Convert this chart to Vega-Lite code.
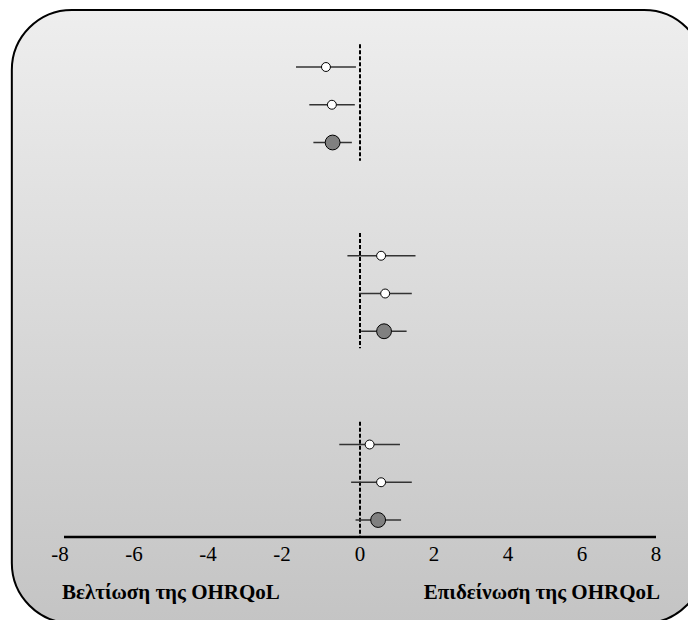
{
  "$schema": "https://vega.github.io/schema/vega-lite/v6.json",
  "width": 592,
  "height": 527,
  "autosize": {"type": "none"},
  "padding": {"left": 64, "top": 10, "right": 32, "bottom": 83},
  "background": "white",
  "config": {"view": {"stroke": null}},
  "data": {
    "values": [
      {"kind": "box", "x0": -9.41, "x1": 9.3, "y0": -1.51, "y1": 14.73},
      {"kind": "ref", "group": 1, "x0": 0, "y0": -0.6, "y1": 2.48},
      {"kind": "ref", "group": 2, "x0": 0, "y0": 4.4, "y1": 7.45},
      {"kind": "ref", "group": 3, "x0": 0, "y0": 9.4, "y1": 12.45},
      {"kind": "study", "group": 1, "row": 0, "est": -0.92, "lo": -1.73, "hi": -0.11},
      {"kind": "study", "group": 1, "row": 1, "est": -0.76, "lo": -1.37, "hi": -0.14},
      {"kind": "pooled", "group": 1, "row": 2, "est": -0.74, "lo": -1.26, "hi": -0.22},
      {"kind": "study", "group": 2, "row": 5, "est": 0.57, "lo": -0.34, "hi": 1.5},
      {"kind": "study", "group": 2, "row": 6, "est": 0.68, "lo": -0.03, "hi": 1.4},
      {"kind": "pooled", "group": 2, "row": 7, "est": 0.65, "lo": 0.03, "hi": 1.26},
      {"kind": "study", "group": 3, "row": 10, "est": 0.26, "lo": -0.56, "hi": 1.08},
      {"kind": "study", "group": 3, "row": 11, "est": 0.57, "lo": -0.24, "hi": 1.4},
      {"kind": "pooled", "group": 3, "row": 12, "est": 0.49, "lo": -0.12, "hi": 1.11},
      {"kind": "axis", "x0": -8, "x1": 8, "y0": 12.45},
      {"kind": "tickneg", "x0": -8, "label": "-8", "y0": 13.09},
      {"kind": "tickneg", "x0": -6, "label": "-6", "y0": 13.09},
      {"kind": "tickneg", "x0": -4, "label": "-4", "y0": 13.09},
      {"kind": "tickneg", "x0": -2, "label": "-2", "y0": 13.09},
      {"kind": "tickpos", "x0": 0, "label": "0", "y0": 13.09},
      {"kind": "tickpos", "x0": 2, "label": "2", "y0": 13.09},
      {"kind": "tickpos", "x0": 4, "label": "4", "y0": 13.09},
      {"kind": "tickpos", "x0": 6, "label": "6", "y0": 13.09},
      {"kind": "tickpos", "x0": 8, "label": "8", "y0": 13.09},
      {"kind": "labelL", "label": "Βελτίωση της OHRQoL", "x0": -8, "y0": 14.08},
      {"kind": "labelR", "label": "Επιδείνωση της OHRQoL", "x0": 8, "y0": 14.08}
    ]
  },
  "layer": [
    {
      "transform": [{"filter": "datum.kind === 'box'"}],
      "mark": {
        "type": "rect", "cornerRadius": 60, "stroke": "black", "strokeWidth": 2,
        "fill": {
          "x1": 0, "y1": 0, "x2": 0, "y2": 1,
          "gradient": "linear",
          "stops": [{"offset": 0, "color": "#eeeeee"}, {"offset": 1, "color": "#c4c4c4"}]
        }
      },
      "encoding": {
        "x": {"field": "x0", "type": "quantitative", "axis": null, "scale": {"domain": [-8, 8], "nice": false, "zero": false}},
        "x2": {"field": "x1"},
        "y": {"field": "y0", "type": "quantitative", "axis": null, "scale": {"domain": [-1.51, 12.45], "reverse": true, "nice": false, "zero": false}},
        "y2": {"field": "y1"}
      }
    },
    {
      "transform": [{"filter": "datum.kind === 'ref'"}],
      "mark": {"type": "rule", "color": "black", "strokeWidth": 2, "strokeDash": [4, 2]},
      "encoding": {
        "x": {"field": "x0", "type": "quantitative", "axis": null},
        "y": {"field": "y0", "type": "quantitative", "axis": null},
        "y2": {"field": "y1"}
      }
    },
    {
      "transform": [{"filter": "datum.kind === 'axis'"}],
      "mark": {"type": "rule", "color": "black", "strokeWidth": 2.5},
      "encoding": {
        "x": {"field": "x0", "type": "quantitative", "axis": null},
        "x2": {"field": "x1"},
        "y": {"field": "y0", "type": "quantitative", "axis": null}
      }
    },
    {
      "transform": [{"filter": "datum.kind === 'study' || datum.kind === 'pooled'"}],
      "mark": {"type": "rule", "color": "#333333", "strokeWidth": 1.5},
      "encoding": {
        "x": {"field": "lo", "type": "quantitative", "axis": null},
        "x2": {"field": "hi"},
        "y": {"field": "row", "type": "quantitative", "axis": null}
      }
    },
    {
      "transform": [{"filter": "datum.kind === 'study'"}],
      "mark": {"type": "point", "shape": "circle", "filled": true, "fill": "white", "stroke": "black", "strokeWidth": 1, "size": 80, "opacity": 1},
      "encoding": {
        "x": {"field": "est", "type": "quantitative", "axis": null},
        "y": {"field": "row", "type": "quantitative", "axis": null}
      }
    },
    {
      "transform": [{"filter": "datum.kind === 'pooled'"}],
      "mark": {"type": "point", "shape": "circle", "filled": true, "fill": "#808080", "stroke": "black", "strokeWidth": 1, "size": 220, "opacity": 1},
      "encoding": {
        "x": {"field": "est", "type": "quantitative", "axis": null},
        "y": {"field": "row", "type": "quantitative", "axis": null}
      }
    },
    {
      "transform": [{"filter": "datum.kind === 'tickneg'"}],
      "mark": {"type": "text", "align": "center", "baseline": "alphabetic", "font": "Liberation Serif", "fontSize": 21, "color": "black", "dx": -4},
      "encoding": {
        "x": {"field": "x0", "type": "quantitative", "axis": null},
        "y": {"field": "y0", "type": "quantitative", "axis": null},
        "text": {"field": "label"}
      }
    },
    {
      "transform": [{"filter": "datum.kind === 'tickpos'"}],
      "mark": {"type": "text", "align": "center", "baseline": "alphabetic", "font": "Liberation Serif", "fontSize": 21, "color": "black"},
      "encoding": {
        "x": {"field": "x0", "type": "quantitative", "axis": null},
        "y": {"field": "y0", "type": "quantitative", "axis": null},
        "text": {"field": "label"}
      }
    },
    {
      "transform": [{"filter": "datum.kind === 'labelL'"}],
      "mark": {"type": "text", "align": "left", "baseline": "alphabetic", "font": "Liberation Serif", "fontWeight": "bold", "fontSize": 21, "color": "black", "dx": -2},
      "encoding": {
        "x": {"field": "x0", "type": "quantitative", "axis": null},
        "y": {"field": "y0", "type": "quantitative", "axis": null},
        "text": {"field": "label"}
      }
    },
    {
      "transform": [{"filter": "datum.kind === 'labelR'"}],
      "mark": {"type": "text", "align": "right", "baseline": "alphabetic", "font": "Liberation Serif", "fontWeight": "bold", "fontSize": 21, "color": "black", "dx": 4},
      "encoding": {
        "x": {"field": "x0", "type": "quantitative", "axis": null},
        "y": {"field": "y0", "type": "quantitative", "axis": null},
        "text": {"field": "label"}
      }
    }
  ]
}
